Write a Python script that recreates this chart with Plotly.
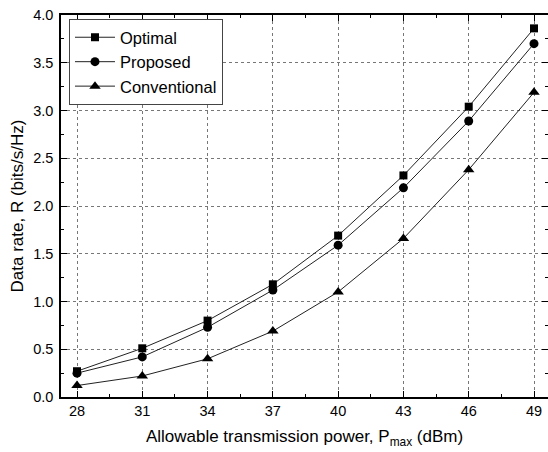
import plotly.graph_objects as go

power_dbm = [28, 31, 34, 37, 40, 43, 46, 49]
optimal = [0.27, 0.51, 0.80, 1.18, 1.69, 2.32, 3.04, 3.86]
proposed = [0.25, 0.42, 0.73, 1.12, 1.59, 2.19, 2.89, 3.70]
conventional = [0.12, 0.22, 0.40, 0.69, 1.10, 1.66, 2.38, 3.19]

x_ticks = [28, 31, 34, 37, 40, 43, 46, 49]
y_ticks = [0.0, 0.5, 1.0, 1.5, 2.0, 2.5, 3.0, 3.5, 4.0]

FONT = "Liberation Sans, Arial, sans-serif"

series = [
    ("Optimal", optimal, "square", 8),
    ("Proposed", proposed, "circle", 9),
    ("Conventional", conventional, "triangle-up", 10),
]

fig = go.Figure()
for name, vals, sym, size in series:
    fig.add_trace(go.Scatter(
        x=power_dbm, y=vals, name=name, mode="lines+markers",
        line=dict(color="#222222", width=1),
        marker=dict(symbol=sym, size=size, color="black"),
    ))

axis_common = dict(
    showline=True, linecolor="black", linewidth=1.5, mirror="ticks",
    ticks="inside", ticklen=6, tickwidth=1.3, tickcolor="black",
    showgrid=True, gridcolor="#777777", gridwidth=1, griddash="dot",
    zeroline=False, automargin=False,
    tickfont=dict(family=FONT, size=14.5, color="black"),
)

fig.update_xaxes(
    **axis_common,
    range=[27.265, 49.643],
    tickmode="array", tickvals=x_ticks, ticktext=[str(v) for v in x_ticks],
    minor=dict(ticks="inside", ticklen=3, tickcolor="black", dtick=1.5, tick0=28, showgrid=False),
    title=dict(text="Allowable transmission power, P<sub>max</sub> (dBm)",
               font=dict(family=FONT, size=17, color="black"), standoff=12),
)
fig.update_yaxes(
    **axis_common,
    range=[0, 4.0],
    tickmode="array", tickvals=y_ticks, ticktext=[f"{v:.1f}" for v in y_ticks],
    ticklabelstandoff=3,
    minor=dict(ticks="inside", ticklen=3, tickcolor="black", dtick=0.25, tick0=0, showgrid=False),
    title=dict(text="Data rate, R (bits/s/Hz)",
               font=dict(family=FONT, size=17, color="black"), standoff=5),
)

fig.update_layout(
    width=548, height=452,
    margin=dict(l=61, r=0, t=15, b=55),
    paper_bgcolor="white", plot_bgcolor="white",
    font=dict(family=FONT, size=14, color="black"),
    legend=dict(
        x=0.0164, y=0.9895, xanchor="left", yanchor="top",
        bgcolor="white", bordercolor="#444444", borderwidth=1,
        font=dict(family=FONT, size=16.5, color="black"),
        itemwidth=40, tracegroupgap=0,
    ),
    showlegend=True,
)

fig.write_html("out.html", config={"displayModeBar": False},
               post_script="document.body.style.margin='0';document.body.style.overflow='hidden';")
